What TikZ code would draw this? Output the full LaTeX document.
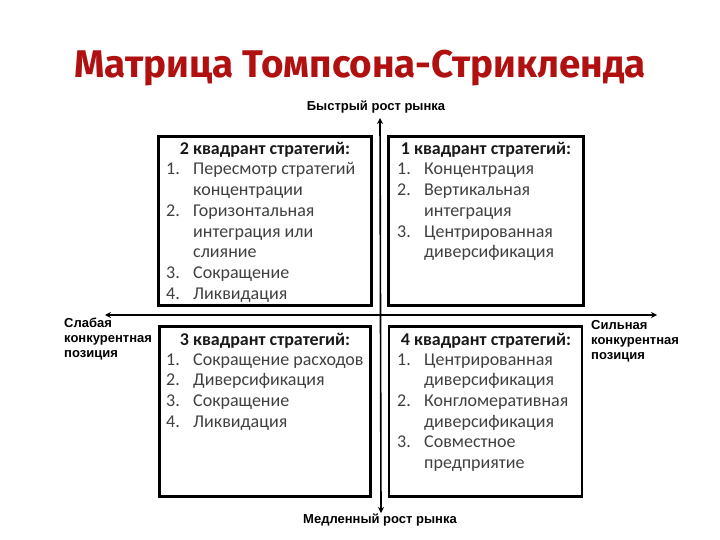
\documentclass[tikz,border=0pt]{standalone}
\usepackage{fontspec}
\setmainfont{Carlito}
\newfontfamily\labelfont{Liberation Sans}
\newfontfamily\titlefont{Fira Sans}
\usetikzlibrary{arrows.meta,positioning}
\definecolor{titlered}{RGB}{176,16,16}
\definecolor{itemgrey}{RGB}{64,64,64}
% numbered list with hanging text column
\newcommand{\stratlist}[1]{\begin{tabular}[t]{@{}p{27pt}@{}l@{}}#1\end{tabular}}

\begin{document}
\begin{tikzpicture}[x=1pt, y=-1pt,
    quadbox/.style={rectangle, draw=black, line width=2.6pt, inner sep=0pt},
    quadhead/.style={anchor=base, inner sep=0pt, font=\fontsize{18}{20.7}\selectfont\bfseries, text=black!90},
    quadlist/.style={anchor=base west, inner sep=0pt, font=\fontsize{18}{20.7}\selectfont, text=itemgrey},
    axislabel/.style={inner sep=0pt, font=\labelfont\fontsize{13}{15}\selectfont\bfseries, align=left},
    axis/.style={{Stealth[length=6pt, width=6pt]}-{Stealth[length=6pt, width=6pt]}, line width=1.6pt}
]
    \useasboundingbox (0,0) rectangle (720,540);

    \node[anchor=base, inner sep=0pt, text=titlered, font=\titlefont\fontsize{38.6}{40}\selectfont\bfseries]
        (title) at (360,78) {Матрица Томпсона-Стрикленда};

    % quadrants
    \node[quadbox, minimum width=213pt, minimum height=169pt] (q2) at (265,221) {};
    \node[quadbox, minimum width=195pt, minimum height=169pt] (q1) at (486,221) {};
    \node[quadbox, minimum width=211pt, minimum height=170pt] (q3) at (265,411.5) {};
    \node[quadbox, minimum width=193pt, minimum height=170pt] (q4) at (485.5,411.5) {};

    \node[quadhead] (h2) at (265,155) {2 квадрант стратегий:};
    \node[quadhead] (h1) at (486,155) {1 квадрант стратегий:};
    \node[quadhead] (h3) at (265,345) {3 квадрант стратегий:};
    \node[quadhead] (h4) at (486,345) {4 квадрант стратегий:};

    \node[quadlist] (l2) at (166,175) {\stratlist{
        1. & Пересмотр стратегий\\
           & концентрации\\
        2. & Горизонтальная\\
           & интеграция или\\
           & слияние\\
        3. & Сокращение\\
        4. & Ликвидация}};
    \node[quadlist] (l1) at (397,175) {\stratlist{
        1. & Концентрация\\
        2. & Вертикальная\\
           & интеграция\\
        3. & Центрированная\\
           & диверсификация}};
    \node[quadlist] (l3) at (166,365) {\stratlist{
        1. & Сокращение расходов\\
        2. & Диверсификация\\
        3. & Сокращение\\
        4. & Ликвидация}};
    \node[quadlist] (l4) at (397,365) {\stratlist{
        1. & Центрированная\\
           & диверсификация\\
        2. & Конгломеративная\\
           & диверсификация\\
        3. & Совместное\\
           & предприятие}};

    % axes
    \coordinate (ytop) at (380,118);
    \coordinate (ybot) at (381,513);
    \coordinate (xleft) at (105,315);
    \coordinate (xright) at (657,315);
    \draw[axis] (ybot) -- (ytop);
    \draw[axis] (xleft) -- (xright);

    \node[axislabel] (fast) at (376,107) {Быстрый рост рынка};
    \node[axislabel] (slow) at (380,520) {Медленный рост рынка};
    \node[axislabel, anchor=north west] (weak) at (64,318) {Слабая\\конкурентная\\позиция};
    \node[axislabel, anchor=north west] (strong) at (591,320) {Сильная\\конкурентная\\позиция};
\end{tikzpicture}
\end{document}
